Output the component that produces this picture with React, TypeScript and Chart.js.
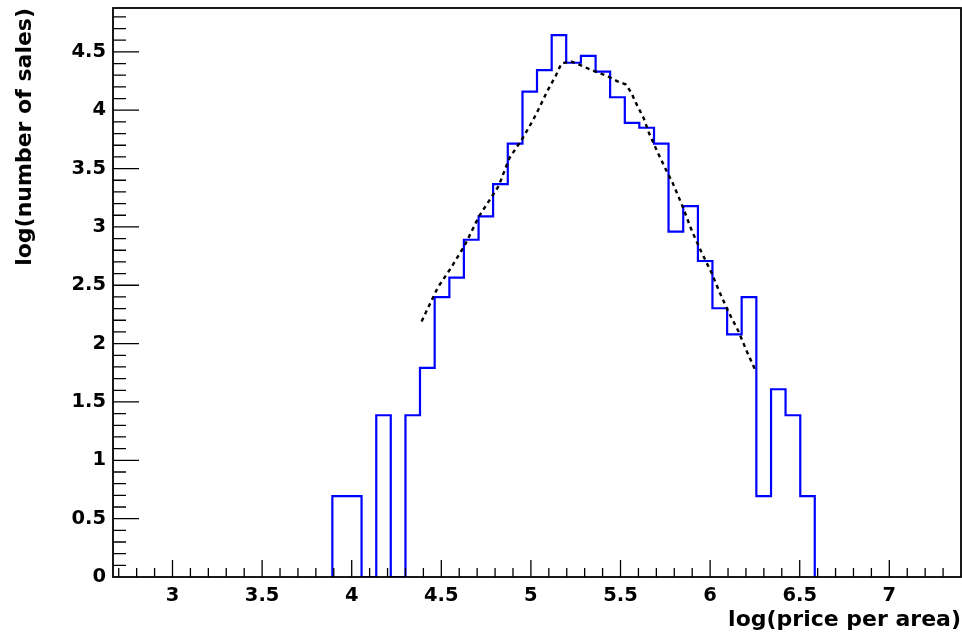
import React, { useEffect, useRef } from 'react';
import { Chart, registerables } from 'chart.js';

Chart.register(...registerables);

// Histogram bin edges (log(price per area)) and bin contents (log(number of sales))
const binEdges = [
  3.892, 3.973, 4.055, 4.137, 4.218, 4.300, 4.381, 4.463, 4.545, 4.626,
  4.708, 4.789, 4.871, 4.953, 5.034, 5.116, 5.197, 5.279, 5.361, 5.442,
  5.524, 5.605, 5.687, 5.768, 5.850, 5.932, 6.013, 6.095, 6.176, 6.258,
  6.340, 6.421, 6.503, 6.584,
];
const binValues = [
  0.693, 0.693, 0, 1.386, 0, 1.386, 1.792, 2.398, 2.565, 2.890,
  3.091, 3.367, 3.714, 4.159, 4.344, 4.644, 4.407, 4.466, 4.331, 4.111,
  3.892, 3.850, 3.714, 2.960, 3.178, 2.708, 2.303, 2.079, 2.398, 0.693,
  1.609, 1.386, 0.693,
];

// Dashed fit curve
const fitX = [
  4.39, 4.48, 4.55, 4.63, 4.71, 4.82, 4.88, 4.95, 5.01, 5.04, 5.09, 5.14, 5.17,
  5.22, 5.27, 5.33, 5.38, 5.43, 5.48, 5.53, 5.56, 5.59, 5.63, 5.66, 5.71,
  5.76, 5.79, 5.84, 5.90, 5.95, 6.01, 6.05, 6.10, 6.16, 6.20, 6.25,
];
const fitY = [
  2.19, 2.48, 2.64, 2.84, 3.09, 3.35, 3.59, 3.75, 3.91, 4.00, 4.16, 4.30, 4.40,
  4.42, 4.39, 4.35, 4.32, 4.29, 4.25, 4.22, 4.15, 4.05, 3.93, 3.80, 3.63,
  3.47, 3.38, 3.20, 2.96, 2.79, 2.60, 2.45, 2.28, 2.10, 1.95, 1.78,
];

const xTicks = [3, 3.5, 4, 4.5, 5, 5.5, 6, 6.5, 7];
const xTickLabels = ['3', '3.5', '4', '4.5', '5', '5.5', '6', '6.5', '7'];
const yTicks = [0, 0.5, 1, 1.5, 2, 2.5, 3, 3.5, 4, 4.5];
const yTickLabels = ['0', '0.5', '1', '1.5', '2', '2.5', '3', '3.5', '4', '4.5'];

const X_MIN = 2.668;
const X_MAX = 7.4;
const Y_MIN = 0;
const Y_MAX = 4.876;

const xTitle = 'log(price per area)';
const yTitle = 'log(number of sales)';

const FONT = "'DejaVu Sans', 'Liberation Sans', Arial, sans-serif";

const frameTicks = {
  id: 'frameTicks',
  afterDatasetsDraw(chart: any) {
    const { ctx, chartArea: ca, scales } = chart;
    const x = scales.x;
    const y = scales.y;
    ctx.save();
    ctx.strokeStyle = '#000';
    ctx.lineWidth = 1.3;
    ctx.beginPath();
    // x-axis minor / major ticks (step 0.1, inside the frame)
    for (let k = Math.ceil(X_MIN * 10); k <= Math.floor(X_MAX * 10 - 0.5); k++) {
      const px = x.getPixelForValue(k / 10);
      const major = k % 5 === 0;
      ctx.moveTo(px, ca.bottom);
      ctx.lineTo(px, ca.bottom - (major ? 17 : 9));
    }
    // y-axis minor / major ticks
    for (let k = 1; k <= Math.floor(Y_MAX * 10); k++) {
      const py = y.getPixelForValue(k / 10);
      const major = k % 5 === 0;
      ctx.moveTo(ca.left, py);
      ctx.lineTo(ca.left + (major ? 26 : 13), py);
    }
    ctx.stroke();
    ctx.lineWidth = 1.8;
    ctx.strokeRect(ca.left, ca.top, ca.right - ca.left, ca.bottom - ca.top);
    ctx.restore();
  },
};

export default function App() {
  const ref = useRef<HTMLCanvasElement>(null);

  useEffect(() => {
    document.body.style.margin = '0';
    const histPoints: { x: number; y: number }[] = [{ x: binEdges[0], y: 0 }];
    binValues.forEach((v, i) => histPoints.push({ x: binEdges[i], y: v }));
    histPoints.push({ x: binEdges[binEdges.length - 1], y: binValues[binValues.length - 1] });
    histPoints.push({ x: binEdges[binEdges.length - 1], y: 0 });

    const fitPoints = fitX.map((xv, i) => ({ x: xv, y: fitY[i] }));

    const chart = new Chart(ref.current as HTMLCanvasElement, {
      type: 'scatter',
      data: {
        datasets: [
          {
            label: 'fit',
            data: fitPoints,
            showLine: true,
            borderColor: '#000000',
            borderWidth: 2.4,
            borderDash: [4, 4],
            pointRadius: 0,
            fill: false,
            order: 0,
          },
          {
            label: 'hist',
            data: histPoints,
            showLine: true,
            stepped: 'before',
            borderColor: '#0000ff',
            borderWidth: 2.2,
            pointRadius: 0,
            fill: false,
            order: 1,
          },
        ],
      } as any,
      options: {
        animation: false,
        responsive: true,
        maintainAspectRatio: false,
        layout: { padding: { top: 8, right: 1, left: 0, bottom: 0 } },
        plugins: {
          legend: { display: false },
          tooltip: { enabled: false },
        },
        scales: {
          x: {
            type: 'linear',
            min: X_MIN,
            max: X_MAX,
            afterBuildTicks: (s: any) => {
              s.ticks = xTicks.map((v) => ({ value: v }));
            },
            afterFit: (s: any) => {
              s.height = 57;
              s.paddingLeft = 0;
              s.paddingRight = 0;
            },
            ticks: {
              callback: (_v: any, i: number) => xTickLabels[i],
              color: '#000',
              font: { family: FONT, size: 19.5, weight: 'bold' },
              padding: 7,
              maxRotation: 0,
              autoSkip: false,
            },
            grid: { display: false, drawTicks: false },
            border: { display: false },
            title: {
              display: true,
              text: xTitle,
              align: 'end',
              color: '#000',
              font: { family: FONT, size: 22, weight: 'bold' },
              padding: { top: 0, bottom: 1 },
            },
          },
          y: {
            type: 'linear',
            min: Y_MIN,
            max: Y_MAX,
            afterBuildTicks: (s: any) => {
              s.ticks = yTicks.map((v) => ({ value: v }));
            },
            afterFit: (s: any) => {
              s.width = 113;
              s.paddingTop = 0;
              s.paddingBottom = 0;
            },
            ticks: {
              callback: (_v: any, i: number) => yTickLabels[i],
              color: '#000',
              font: { family: FONT, size: 19.5, weight: 'bold' },
              padding: 7,
              autoSkip: false,
            },
            grid: { display: false, drawTicks: false },
            border: { display: false },
            title: {
              display: true,
              text: yTitle,
              align: 'end',
              color: '#000',
              font: { family: FONT, size: 22, weight: 'bold' },
              padding: { top: 12, bottom: 0 },
            },
          },
        },
      } as any,
      plugins: [frameTicks],
    });
    return () => chart.destroy();
  }, []);

  return (
    <div style={{ position: 'relative', width: 962, height: 634 }}>
      <canvas ref={ref} />
    </div>
  );
}
